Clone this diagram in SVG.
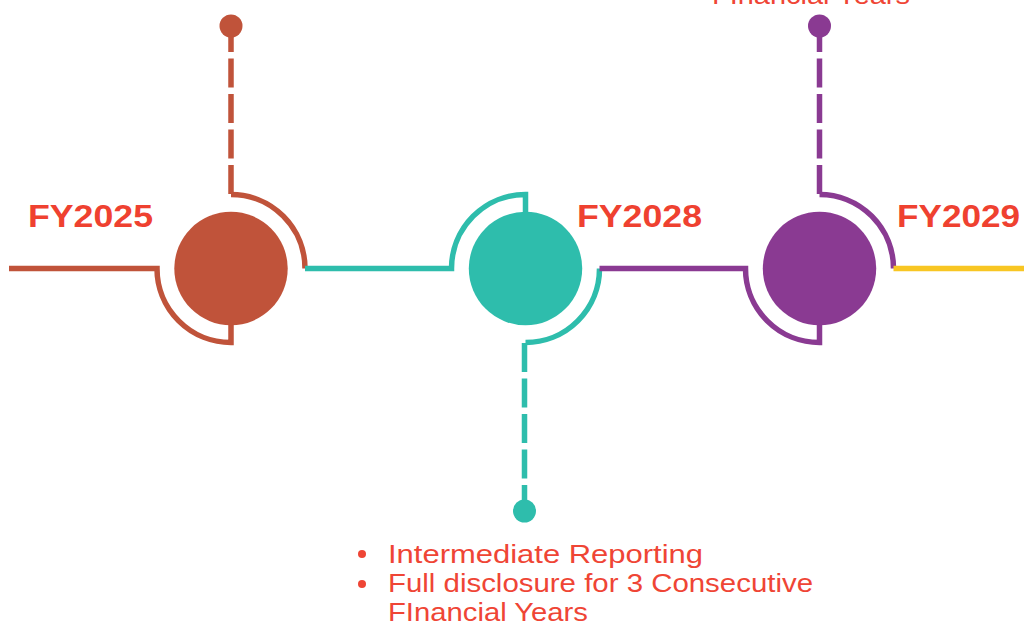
<svg xmlns="http://www.w3.org/2000/svg" width="1024" height="623" viewBox="0 0 1024 623">
<style>
.ln{fill:none;stroke-width:5.5}
.ds{fill:none;stroke-width:5.5;stroke-dasharray:29 6.5;stroke-dashoffset:3}
.yr{font-family:"Liberation Sans",Arial,sans-serif;font-weight:bold;font-size:32px;fill:#EF4130}
.tx{font-family:"Liberation Sans",Arial,sans-serif;font-size:26px;fill:#EF4535}
.rust{stroke:#C0533A}
.teal{stroke:#2EBDAC}
.purp{stroke:#8A3A92}
</style>
<rect width="1024" height="623" fill="#FFFFFF"/>
<g id="connectors">
<path class="ln rust" d="M9,268.5 H157 A74,74 0 0 0 231,342.5 V325"/>
<path class="ln rust" d="M231,194.5 A74,74 0 0 1 305,268.5"/>
<path class="ds rust" d="M231,26 V194.5"/>
<path class="ln teal" d="M305,268.5 H451.5 A74,74 0 0 1 525.5,194.5 V212"/>
<path class="ln teal" d="M599.5,268.5 A74,74 0 0 1 525.5,342.5"/>
<path class="ds teal" d="M524.5,511 V342.5"/>
<path class="ln purp" d="M599.5,268.5 H745.5 A74,74 0 0 0 819.5,342.5 V325"/>
<path class="ln purp" d="M819.5,194.5 A74,74 0 0 1 893.5,268.5"/>
<path class="ds purp" d="M819.5,26 V194.5"/>
<path class="ln" stroke="#F8C623" d="M893.5,268.5 H1024"/>
</g>
<g id="node-fy2025">
<circle cx="231" cy="268.5" r="56.7" fill="#C0533A"/>
<circle cx="231" cy="26" r="11.5" fill="#C0533A"/>
<text class="yr" x="28" y="227" textLength="125" lengthAdjust="spacingAndGlyphs">FY2025</text>
</g>
<g id="node-fy2028">
<circle cx="525.5" cy="268.5" r="56.7" fill="#2EBDAC"/>
<circle cx="524.5" cy="511" r="11.5" fill="#2EBDAC"/>
<text class="yr" x="577" y="227" textLength="125" lengthAdjust="spacingAndGlyphs">FY2028</text>
<circle cx="362" cy="554" r="4" fill="#EF4535"/>
<circle cx="362" cy="584" r="4" fill="#EF4535"/>
<text class="tx" x="388" y="563" textLength="315" lengthAdjust="spacingAndGlyphs">Intermediate Reporting</text>
<text class="tx" x="388" y="592" textLength="425" lengthAdjust="spacingAndGlyphs">Full disclosure for 3 Consecutive</text>
<text class="tx" x="388" y="621" textLength="200" lengthAdjust="spacingAndGlyphs">FInancial Years</text>
</g>
<g id="node-fy2029">
<circle cx="819.5" cy="268.5" r="56.7" fill="#8A3A92"/>
<circle cx="819.5" cy="26" r="11.5" fill="#8A3A92"/>
<text class="yr" x="897" y="227" textLength="123" lengthAdjust="spacingAndGlyphs">FY2029</text>
<text class="tx" x="712" y="4" textLength="198" lengthAdjust="spacingAndGlyphs">FInancial Years</text>
</g>
</svg>
